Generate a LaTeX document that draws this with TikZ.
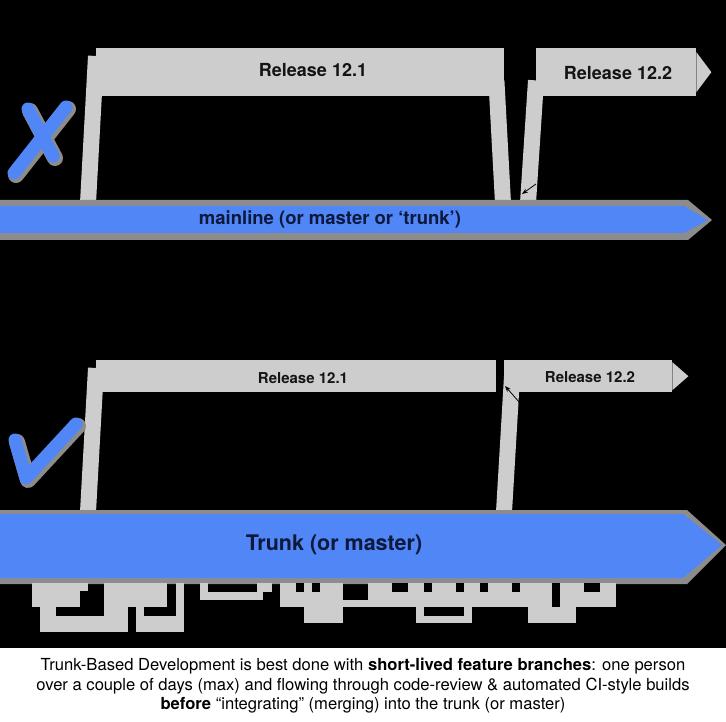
\documentclass[tikz,border=0pt]{standalone}
\usepackage{fontspec}
\setmainfont{TeX Gyre Heros}
\usepackage{tikz}
\usetikzlibrary{arrows.meta, positioning, calc}

\definecolor{trunkblue}{RGB}{80,134,246}
\definecolor{relgrey}{RGB}{205,205,205}
\definecolor{edgegrey}{RGB}{140,140,140}
\definecolor{labelnavy}{RGB}{12,24,60}
\definecolor{reltext}{RGB}{20,20,20}

\tikzset{
  relbar/.style={fill=relgrey, draw=none, inner sep=0pt, anchor=north west},
  reltxt/.style={text=reltext, font=\bfseries},
  stem/.style={draw=relgrey, line width=16pt},
  okmark/.style={draw=trunkblue, line width=13pt, line cap=round, line join=round},
  okshadow/.style={draw=edgegrey, line width=16pt, line cap=round, line join=round},
}

\begin{document}
\begin{tikzpicture}[x=1pt, y=-1pt]
  \useasboundingbox (0,0) rectangle (726,722);
  \fill[black] (0,0) rectangle (726,648);
  \fill[white] (0,648) rectangle (726,722);

  % Haut : releases sur la mainline
  \node[relbar, minimum width=408pt, minimum height=48pt] (rel121) at (96,48) {};
  \node[reltxt, font=\bfseries\fontsize{18}{20}\selectfont] (rel121txt) at (313,70) {Release 12.1};
  \node[relbar, minimum width=160pt, minimum height=48pt] (rel122) at (536,48) {};
  \node[reltxt, font=\bfseries\fontsize{18}{20}\selectfont] (rel122txt) at (618,73) {Release 12.2};
  \fill[relgrey] ($(rel122.east)+(0,-20)$) -- ($(rel122.east)+(15,0)$) -- ($(rel122.east)+(0,20)$) -- cycle;

  \coordinate (f121) at (88,203);
  \coordinate (m121) at (503,203);
  \coordinate (f122) at (528,203);
  \draw[stem] (f121) -- ($(rel121.north west)+(0,8)$);
  \draw[stem] (m121) -- ($(rel121.south east)+(-8,-16)$);
  \draw[stem] (f122) -- ($(rel122.south west)+(0,-16)$);
  \draw[black, thick, -{Stealth[length=6pt]}] (536,184) -- (522,194);

  % Mainline
  \fill[edgegrey] (0,200) -- (688,200) -- (712,220) -- (688,240) -- (0,240) -- cycle;
  \fill[trunkblue] (0,206) -- (684,206) -- (708,220) -- (684,233) -- (0,233) -- cycle;
  \node[text=labelnavy, font=\bfseries\fontsize{18.5}{20}\selectfont] (mainline) at (330,219) {mainline (or master or ‘trunk’)};

  % Croix
  \draw[okshadow] (68,109) -- (16,175);
  \draw[okshadow] (30,111) -- (55,158);
  \draw[okmark] (66,107) -- (14,173);
  \draw[okmark] (28,109) -- (53,156);

  % Bas : releases sur le trunk
  \node[relbar, minimum width=400pt, minimum height=32pt] (rel121b) at (96,360) {};
  \node[reltxt, font=\bfseries\fontsize{15}{17}\selectfont] (rel121btxt) at (303,378) {Release 12.1};
  \node[relbar, minimum width=168pt, minimum height=32pt] (rel122b) at (504,360) {};
  \node[reltxt, font=\bfseries\fontsize{15}{17}\selectfont] (rel122btxt) at (590,377) {Release 12.2};
  \fill[relgrey] ($(rel122b.east)+(0,-14)$) -- ($(rel122b.east)+(16,0)$) -- ($(rel122b.east)+(0,14)$) -- cycle;

  \coordinate (t121) at (88,512);
  \coordinate (t122) at (504,512);
  \draw[stem] (t121) -- ($(rel121b.north west)+(0,8)$);
  \draw[stem] (t122) -- ($(rel122b.south west)+(8,-16)$);
  \draw[black, thick, -{Stealth[length=6pt]}] (520,403) -- (505,386);

  % Coche
  \draw[okshadow] (17,442) -- (28,480) -- (78,426);
  \draw[okmark] (15,440) -- (26,478) -- (76,424);

  % Trunk
  \fill[edgegrey] (0,510) -- (687,510) -- (726,545) -- (687,584) -- (0,584) -- cycle;
  \fill[trunkblue] (0,514) -- (683,514) -- (722,545) -- (683,578) -- (0,578) -- cycle;
  \node[text=labelnavy, font=\bfseries\fontsize{21.5}{24}\selectfont] (trunk) at (334,545) {Trunk (or master)};

  % Branches courtes
  \foreach \xa/\ya/\xb/\yb in {32/583/80/607, 72/583/88/591, 40/607/56/632, 56/616/128/632,
      104/583/167/607, 104/607/128/616, 136/607/144/616, 136/616/184/632, 176/583/184/616,
      200/583/208/600, 200/592/263/600, 257/583/272/592, 280/583/343/607, 304/607/343/623,
      343/600/368/607, 368/583/616/607, 416/607/472/623, 528/607/576/623}
    \fill[relgrey] (\xa,\ya) rectangle (\xb,\yb);
  \foreach \xa/\ya/\xb/\yb in {296/583/304/592, 312/583/320/592, 392/583/408/592, 424/583/432/592,
      456/583/464/592, 480/583/488/592, 512/583/520/592, 552/583/560/607, 584/583/600/592,
      424/607/464/616}
    \fill[black] (\xa,\ya) rectangle (\xb,\yb);

  % Legende
  \node[align=center, font=\fontsize{16.6}{19.5}\selectfont] (caption) at (363,686)
    {Trunk-Based Development is best done with \textbf{short-lived feature branches}: one person\\
     over a couple of days (max) and flowing through code-review \& automated CI-style builds\\
     \textbf{before} “integrating” (merging) into the trunk (or master)};
\end{tikzpicture}
\end{document}
